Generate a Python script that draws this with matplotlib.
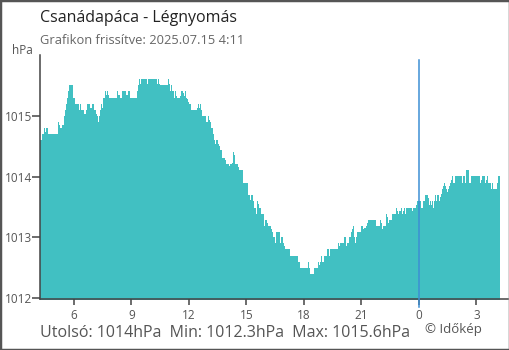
import matplotlib
matplotlib.use("Agg")
import matplotlib.pyplot as plt
from matplotlib.patches import Rectangle

plt.rcParams['font.family'] = ['Open Sans', 'DejaVu Sans']

# Time of each change (decimal hours, >24 = next day) and pressure (hPa)
hours = [4.23, 4.33, 4.44, 4.49, 4.54, 4.65, 5.17, 5.22, 5.27, 5.38, 5.48, 5.53, 5.59, 5.64,
         5.69, 5.74, 5.95, 6.06, 6.26, 6.32, 6.37, 6.53, 6.63, 6.68, 6.84, 6.94, 7.05, 7.15,
         7.21, 7.26, 7.31, 7.36, 7.41, 7.46, 7.52, 7.62, 7.67, 7.73, 7.78, 7.83, 8.25, 8.30,
         8.40, 8.51, 8.72, 8.82, 8.93,
         9.29, 9.34, 9.39, 9.45, 9.50, 9.81, 9.86, 10.33, 10.39, 10.44, 10.49, 10.91, 10.96,
         11.01, 11.06, 11.12, 11.22, 11.27, 11.33, 11.38, 11.53, 11.59, 11.69, 11.74, 11.79,
         11.85, 11.90, 11.95, 12.00, 12.11, 12.42, 12.47, 12.53, 12.58, 12.63, 12.68, 12.89,
         12.99, 13.05, 13.10, 13.15, 13.26, 13.31, 13.36, 13.41, 13.52, 13.57, 13.62, 13.72,
         13.88, 13.93, 14.09, 14.14, 14.25, 14.30, 14.35, 14.40, 14.56, 14.61, 14.82, 15.08,
         15.19, 15.24, 15.34, 15.39, 15.50, 15.55, 15.60, 15.66, 15.76, 15.92, 15.97, 16.07,
         16.12, 16.28, 16.33, 16.39, 16.49, 16.54, 16.75, 16.80, 16.91, 16.96, 17.01, 17.27,
         17.69, 17.79, 18.21, 18.26, 18.32, 18.52,
         18.73, 18.79, 18.84, 18.89, 18.94, 19.05, 19.20, 19.31, 19.36, 19.78, 19.83, 19.88,
         20.09, 20.19, 20.25, 20.35, 20.46, 20.51, 20.56, 20.61, 20.66, 20.72, 20.77, 20.98,
         21.08, 21.13, 21.24, 21.29, 21.34, 21.76, 21.97, 22.02, 22.07, 22.12, 22.28, 22.33,
         22.39, 22.44, 22.59, 22.80, 22.85, 22.91, 22.96, 23.06, 23.12, 23.17, 23.22, 23.27,
         23.32, 23.64, 23.69, 23.85, 23.90, 24.11, 24.21, 24.32, 24.47, 24.52, 24.58, 24.63,
         24.68, 24.73, 24.79, 24.84, 24.89, 24.94, 25.05, 25.10, 25.15, 25.20, 25.25, 25.31,
         25.36, 25.41, 25.46, 25.51, 25.57, 25.62, 25.67, 25.72, 25.77, 25.88, 26.24, 26.29,
         26.40, 26.45, 26.60, 26.71, 27.18, 27.23, 27.29, 27.44, 27.49, 27.54, 27.60, 27.75,
         27.80, 27.86, 28.07, 28.12, 28.23]

pressure = [1014.60, 1014.70, 1014.80, 1014.74, 1014.80, 1014.70, 1014.90, 1014.84, 1014.80,
            1014.84, 1015.00, 1015.10, 1015.20, 1015.30, 1015.40, 1015.50, 1015.30, 1015.20,
            1015.10, 1015.20, 1015.10, 1015.03, 1015.10, 1015.20, 1015.13, 1015.20, 1015.10,
            1015.03, 1015.00, 1014.90, 1015.00, 1015.10, 1015.20, 1015.13, 1015.30, 1015.40,
            1015.35, 1015.40, 1015.35, 1015.30, 1015.40, 1015.35, 1015.30, 1015.40, 1015.35,
            1015.40, 1015.30,
            1015.40, 1015.50, 1015.60, 1015.53, 1015.60, 1015.53, 1015.60, 1015.53, 1015.60,
            1015.53, 1015.50, 1015.60, 1015.53, 1015.40, 1015.50, 1015.40, 1015.30, 1015.40,
            1015.33, 1015.30, 1015.33, 1015.40, 1015.37, 1015.33, 1015.40, 1015.30, 1015.27,
            1015.23, 1015.20, 1015.10, 1015.13, 1015.20, 1015.13, 1015.20, 1015.10, 1015.00,
            1014.90, 1015.00, 1014.93, 1014.90, 1014.80, 1014.70, 1014.60, 1014.53, 1014.60,
            1014.53, 1014.50, 1014.44, 1014.30, 1014.27, 1014.20, 1014.17, 1014.20, 1014.23,
            1014.40, 1014.35, 1014.20, 1014.16, 1014.10, 1013.89, 1013.69, 1013.62, 1013.69,
            1013.60, 1013.49, 1013.39, 1013.59, 1013.54, 1013.49, 1013.39, 1013.19, 1013.29,
            1013.24, 1013.19, 1013.14, 1013.09, 1013.00, 1012.90, 1013.09, 1012.90, 1013.00,
            1012.90, 1012.85, 1012.80, 1012.70, 1012.60, 1012.50, 1012.60, 1012.50, 1012.40,
            1012.50,
            1012.60, 1012.55, 1012.60, 1012.70, 1012.60, 1012.70, 1012.80, 1012.70, 1012.80,
            1012.90, 1012.85, 1012.90, 1013.00, 1012.85, 1012.90, 1013.00, 1013.09, 1013.13,
            1013.19, 1013.00, 1012.90, 1013.00, 1013.09, 1013.19, 1013.13, 1013.16, 1013.19,
            1013.23, 1013.29, 1013.19, 1013.29, 1013.23, 1013.13, 1013.19, 1013.39, 1013.33,
            1013.24, 1013.29, 1013.39, 1013.49, 1013.44, 1013.39, 1013.44, 1013.49, 1013.39,
            1013.44, 1013.49, 1013.39, 1013.49, 1013.44, 1013.49, 1013.53, 1013.59, 1013.49,
            1013.59, 1013.69, 1013.64, 1013.53, 1013.59, 1013.53, 1013.59, 1013.49, 1013.59,
            1013.69, 1013.59, 1013.69, 1013.59, 1013.66, 1013.72, 1013.79, 1013.84, 1013.89,
            1013.84, 1013.79, 1013.74, 1013.79, 1013.84, 1013.89, 1013.94, 1014.01, 1013.89,
            1014.01, 1013.89, 1014.01, 1013.89, 1014.11, 1013.89, 1014.01, 1013.89, 1013.94,
            1014.01, 1013.89, 1013.94, 1014.01, 1013.89, 1013.79, 1013.89, 1013.79, 1013.89,
            1014.01, 1014.01]

tick_pos = [6, 9, 12, 15, 18, 21, 24, 27]
tick_labels = ['6', '9', '12', '15', '18', '21', '0', '3']
y_ticks = [1012, 1013, 1014, 1015]
midnight = 24

title = "Csanádapáca - Légnyomás"
subtitle = "Grafikon frissítve: 2025.07.15 4:11"
footer = "Utolsó: 1014hPa  Min: 1012.3hPa  Max: 1015.6hPa"
credit = "© Időkép"

W, H = 510, 350
fig = plt.figure(figsize=(W / 100, H / 100), dpi=100)
fig.patch.set_facecolor('white')
ax_l, ax_r, ax_t, ax_b = 40, 508, 55, 299
ax = fig.add_axes([ax_l / W, 1 - ax_b / H, (ax_r - ax_l) / W, (ax_b - ax_t) / H])

ax.fill_between(hours, pressure, 1011.0, step='post', color='#41c0c2', lw=0)
ax.set_xlim(4.23, 28.65)
ax.set_ylim(1011.985, 1016.0)

for s in ['top', 'right']:
    ax.spines[s].set_visible(False)
for s in ['left', 'bottom']:
    ax.spines[s].set_color('#444444')
    ax.spines[s].set_linewidth(1.1)

ax.set_xticks(tick_pos)
ax.set_xticklabels(tick_labels)
ax.set_yticks(y_ticks)
ax.set_yticklabels([str(v) for v in y_ticks])
ax.tick_params(axis='x', direction='out', length=4, width=1.1, color='#444444',
               labelsize=8.5, labelcolor='#555555', pad=3)
ax.tick_params(axis='y', direction='out', length=5.5, width=1.1, color='#444444',
               labelsize=8.5, labelcolor='#555555', pad=0.5)

ax.axvline(midnight, ymin=-8 / 244, ymax=(299 - 60) / 244, clip_on=False,
           color='#3d8fd4', lw=1.1, zorder=5)

fig.text(40 / W, 1 - 18 / H, title, fontsize=11.5, color='#222222', va='center', ha='left')
fig.text(40 / W, 1 - 41 / H, subtitle, fontsize=9.3, color='#666666', va='center', ha='left')
fig.text(12 / W, 1 - 51 / H, "hPa", fontsize=8.5, color='#555555', va='center', ha='left')
fig.text(40 / W, 1 - 333 / H, footer, fontsize=11.5, color='#555555', va='center', ha='left')
fig.text(425 / W, 1 - 330 / H, credit, fontsize=9.5, color='#555555', va='center', ha='left')

fig.add_artist(Rectangle((0, 0), 1, 1, transform=fig.transFigure, fill=False,
                         edgecolor='#555555', lw=2.5))

fig.savefig('out.png', dpi=100, facecolor='white')
